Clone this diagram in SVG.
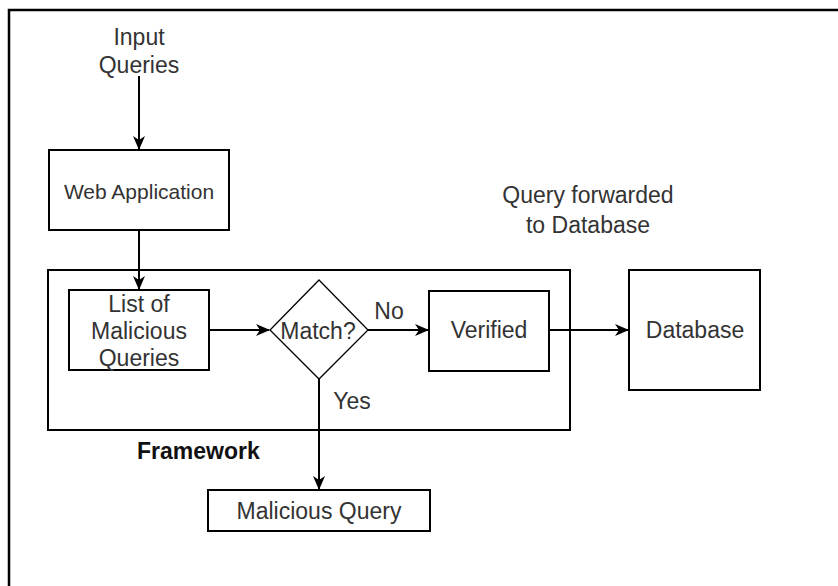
<svg xmlns="http://www.w3.org/2000/svg" width="838" height="586" viewBox="0 0 838 586">
<defs>
<style>
.box{fill:#fff;stroke:#000;stroke-width:2}
.dia{fill:#fff;stroke:#000;stroke-width:1.3}
.t{font-family:"Liberation Sans",Arial,sans-serif;font-size:23px;fill:#333;text-anchor:middle}
.s{font-size:21px}
.b{font-weight:bold;fill:#111;text-anchor:start}
.c{fill:none;stroke:#000;stroke-width:2}
</style>
<marker id="arr" viewBox="0 0 14 14" refX="13" refY="7" markerWidth="14" markerHeight="14" markerUnits="userSpaceOnUse" orient="auto">
<path d="M0,1 L14,7 L0,13 L4,7 Z" fill="#000"/>
</marker>
</defs>
<rect width="838" height="586" fill="#fff"/>
<path d="M9,586 V10 H838" fill="none" stroke="#000" stroke-width="2.5"/>
<g id="framework">
<rect class="box" x="48" y="270" width="522" height="160"/>
<text class="t b" x="137" y="459">Framework</text>
</g>
<g id="input-queries">
<text class="t" x="139" y="45">Input</text>
<text class="t" x="139" y="73">Queries</text>
</g>
<g id="web-application">
<rect class="box" x="49" y="150" width="180" height="80"/>
<text class="t s" x="139" y="199">Web Application</text>
</g>
<g id="list-malicious">
<rect class="box" x="69" y="290" width="140" height="80"/>
<text class="t" x="139" y="312">List of</text>
<text class="t" x="139" y="339">Malicious</text>
<text class="t" x="139" y="366">Queries</text>
</g>
<g id="match">
<polygon class="dia" points="319,280 368,330 319,379 270,330"/>
<text class="t" x="318" y="339">Match?</text>
</g>
<g id="verified">
<rect class="box" x="429" y="291" width="120" height="80"/>
<text class="t" x="489" y="338">Verified</text>
</g>
<g id="database">
<rect class="box" x="629" y="270" width="131" height="120"/>
<text class="t" x="695" y="338">Database</text>
</g>
<g id="malicious-query">
<rect class="box" x="208" y="490" width="222" height="41"/>
<text class="t" x="319" y="519">Malicious Query</text>
</g>
<g id="query-forwarded">
<text class="t" x="588" y="203">Query forwarded</text>
<text class="t" x="588" y="233">to Database</text>
</g>
<g id="connectors">
<line class="c" x1="139" y1="76" x2="139" y2="149" marker-end="url(#arr)"/>
<line class="c" x1="139" y1="231" x2="139" y2="289" marker-end="url(#arr)"/>
<line class="c" x1="210" y1="330" x2="269" y2="330" marker-end="url(#arr)"/>
<line class="c" x1="368" y1="330" x2="428" y2="330" marker-end="url(#arr)"/>
<line class="c" x1="550" y1="330" x2="628" y2="330" marker-end="url(#arr)"/>
<line class="c" x1="319" y1="379" x2="319" y2="489" marker-end="url(#arr)"/>
<text class="t" x="389" y="319">No</text>
<text class="t" x="352" y="409">Yes</text>
</g>
</svg>
